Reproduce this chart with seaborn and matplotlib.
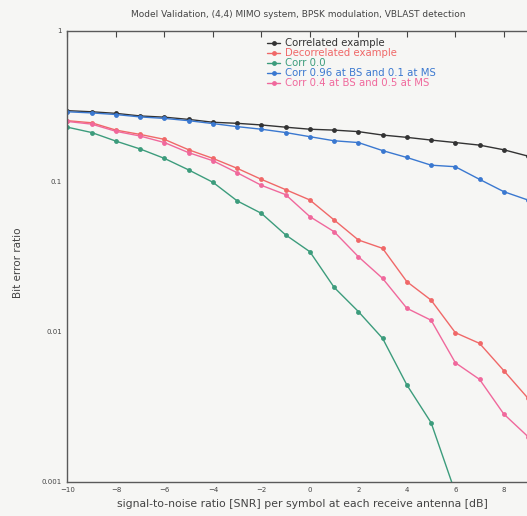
"""BER vs SNR curves, (4,4) MIMO VBLAST model validation."""
import numpy as np
import pandas as pd
import matplotlib
matplotlib.use("Agg")
import matplotlib.pyplot as plt
from matplotlib.ticker import LogLocator, FixedLocator, NullFormatter
import seaborn as sns

OUTPUT_PATH = "out.png"

snr_db = list(range(-10, 10))

correlated = [0.295, 0.290, 0.283, 0.272, 0.267, 0.258, 0.247, 0.243, 0.237, 0.229,
              0.222, 0.219, 0.214, 0.203, 0.196, 0.188, 0.181, 0.174, 0.162, 0.147]
decorrelated = [0.253, 0.245, 0.219, 0.205, 0.190, 0.162, 0.142, 0.122, 0.103, 0.088,
                0.0751, 0.0553, 0.0407, 0.0358, 0.0215, 0.0162, 0.00984, 0.00835, 0.0055, 0.0036]
corr_00 = [0.229, 0.211, 0.185, 0.164, 0.142, 0.119, 0.0985, 0.0741, 0.0612, 0.0440,
           0.0340, 0.0197, 0.0136, 0.00902, 0.00442, 0.00248, 0.00085, np.nan, np.nan, np.nan]
corr_096 = [0.290, 0.285, 0.278, 0.268, 0.262, 0.253, 0.242, 0.231, 0.222, 0.211,
            0.198, 0.186, 0.181, 0.160, 0.144, 0.128, 0.125, 0.103, 0.0853, 0.075]
corr_04 = [0.250, 0.240, 0.215, 0.200, 0.181, 0.155, 0.137, 0.114, 0.094, 0.0815,
           0.0582, 0.0462, 0.0315, 0.0226, 0.0143, 0.0119, 0.00621, 0.00481, 0.00283, 0.0020]

labels = ["Correlated example", "Decorrelated example", "Corr 0.0",
          "Corr 0.96 at BS and 0.1 at MS", "Corr 0.4 at BS and 0.5 at MS"]
colors = ["#333333", "#f06868", "#3c9c7c", "#3a78d0", "#f0689c"]

x_ticks = [-10, -8, -6, -4, -2, 0, 2, 4, 6, 8]

sns.set_style("white")
plt.rcParams["font.family"] = ["DejaVu Sans"]
BG = "#f6f6f4"

df = pd.DataFrame({"snr": snr_db * 5,
                   "ber": correlated + decorrelated + corr_00 + corr_096 + corr_04,
                   "series": sum([[lab] * len(snr_db) for lab in labels], [])}).dropna()

fig = plt.figure(figsize=(5.27, 5.16), dpi=100, facecolor=BG)
# the original is cropped on the right: axes run past the figure edge
ax = fig.add_axes([0.128, 0.066, 0.920, 0.874], facecolor=BG)

sns.lineplot(data=df, x="snr", y="ber", hue="series", hue_order=labels,
             palette=dict(zip(labels, colors)), marker="o", markersize=3.5,
             markeredgewidth=0, linewidth=1.0, ax=ax)

ax.set_yscale("log")
ax.set_xlim(-10, 10)
ax.set_ylim(0.001, 1)
ax.xaxis.set_major_locator(FixedLocator(x_ticks))
ax.yaxis.set_major_locator(FixedLocator([0.001, 0.01, 0.1, 1]))
ax.set_yticklabels(["0.001", "0.01", "0.1", "1"])
ax.yaxis.set_minor_locator(LogLocator(base=10, subs=np.arange(2, 10)))
ax.yaxis.set_minor_formatter(NullFormatter())
ax.tick_params(which="both", direction="in", top=True, right=True,
               labelsize=5, colors="#444444", pad=4)
ax.tick_params(which="major", length=4, width=0.8)
ax.tick_params(which="minor", length=2.5, width=0.6)
for sp in ax.spines.values():
    sp.set_color("#5a5a5a")
    sp.set_linewidth(1.0)

ax.set_xlabel("")
ax.set_ylabel("")
fig.text(0.566, 0.971, "Model Validation, (4,4) MIMO system, BPSK modulation, VBLAST detection",
         ha="center", va="center", fontsize=6.5, color="#444444")
fig.text(0.573, 0.023, "signal-to-noise ratio [SNR] per symbol at each receive antenna [dB]",
         ha="center", va="center", fontsize=7.8, color="#444444")
fig.text(0.034, 0.49, "Bit error ratio", rotation=90, ha="center", va="center",
         fontsize=7.5, color="#444444")

leg = ax.legend(loc="upper left", bbox_to_anchor=(262 / 527, 1 - 33 / 516),
                bbox_transform=fig.transFigure, frameon=False, fontsize=7.3,
                handlelength=1.3, handletextpad=0.5, labelspacing=0.0, borderpad=0)
for txt, c in zip(leg.get_texts(), colors):
    txt.set_color(c)

plt.savefig(OUTPUT_PATH, dpi=100, facecolor=BG)
plt.close()
print(f"Saved: {OUTPUT_PATH}")
